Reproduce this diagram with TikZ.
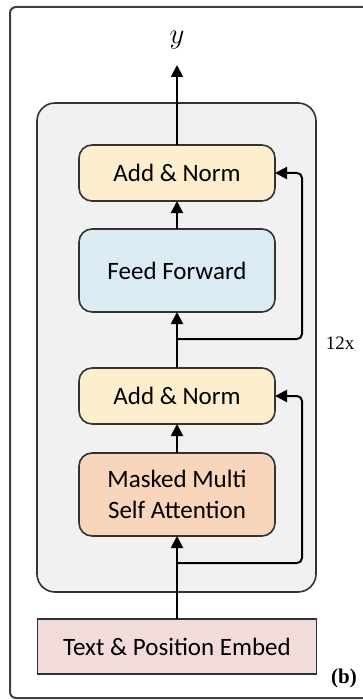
\documentclass[tikz,border=0pt]{standalone}
\usepackage{fontspec}
\setmainfont{Carlito}
\newfontfamily\labelfont{Liberation Serif}
\usetikzlibrary{arrows.meta,positioning,backgrounds}

\definecolor{normfill}{HTML}{FDEFCD}
\definecolor{ffnfill}{HTML}{DBEBF3}
\definecolor{attnfill}{HTML}{F9D6BB}
\definecolor{embedfill}{HTML}{F1DCDB}
\definecolor{blockfill}{HTML}{F1F1F1}
\definecolor{edge}{HTML}{333333}

\begin{document}
\begin{tikzpicture}[x=0.5pt, y=-0.5pt,
    box/.style={draw=edge,line width=0.8pt,outer sep=0pt,rounded corners=6.5pt,minimum width=98pt,align=center,font=\fontsize{12.5}{15.5}\selectfont},
    norm/.style={box,fill=normfill,minimum height=28pt},
    flow/.style={-{Triangle[length=6pt,width=6pt]},line width=1pt},
    res/.style={flow,rounded corners=2.5pt}]
  \useasboundingbox (0,0) rectangle (363,700);
  \clip (0,0) rectangle (363,700);
  \draw[draw=black!75,line width=1pt,rounded corners=3pt] (10,7) rectangle (400,698);

  % decoder stack
  \node[box,rounded corners=0pt,fill=embedfill,minimum width=139.5pt,minimum height=27.5pt] (embed) at (177,646.5) {Text \& Position Embed};
  \node[box,fill=attnfill,minimum height=41.5pt,above=41.5pt of embed] (mmsa) {Masked Multi\\Self Attention};
  \node[norm,above=14.5pt of mmsa] (an1) {Add \& Norm};
  \node[box,fill=ffnfill,minimum height=41.5pt,above=28pt of an1] (ff) {Feed Forward};
  \node[norm,above=14pt of ff] (an2) {Add \& Norm};
  \node[font=\fontsize{13.5}{15}\selectfont,inner sep=8pt,outer sep=0pt,above=40pt of an2] (out) {$y$};

  \begin{scope}[on background layer]
    \draw[draw=edge,line width=0.8pt,fill=blockfill,rounded corners=9pt]
      ([shift={(-21pt,21pt)}]an2.north west) rectangle ([shift={(20.5pt,-28pt)}]mmsa.south east);
  \end{scope}

  \draw[flow] (embed) -- (mmsa);
  \draw[flow] (mmsa) -- (an1);
  \draw[flow] (an1) -- (ff);
  \draw[flow] (ff) -- (an2);
  \draw[flow] (an2) -- (out);

  % residual paths
  \coordinate[below=13.5pt of mmsa.south] (split1);
  \coordinate[below=13.5pt of ff.south] (split2);
  \draw[res] (split1) -| ([xshift=13.5pt]an1.east) -- (an1.east);
  \draw[res] (split2) -| ([xshift=13.5pt]an2.east) -- (an2.east);

  \node[font=\labelfont\fontsize{9.5}{11}\selectfont] (rep) at (340,343) {12x};
  \node[font=\labelfont\bfseries\fontsize{10.5}{12}\selectfont] (tag) at (344,678) {(b)};
\end{tikzpicture}
\end{document}
